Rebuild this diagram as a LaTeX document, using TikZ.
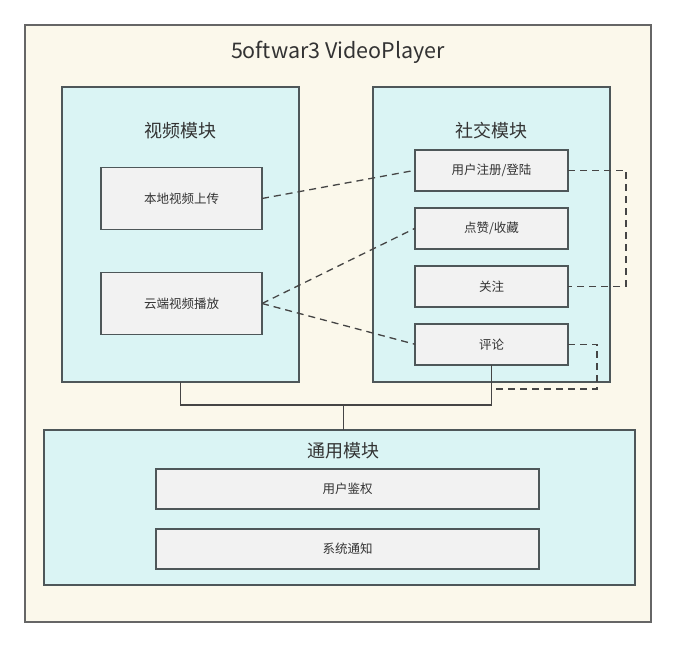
\documentclass[tikz,border=0pt]{standalone}
\usepackage{fontspec}
\setmainfont{Noto Sans CJK SC}
\begin{document}
\begin{tikzpicture}[x=1pt,y=-1pt,
  every node/.style={inner sep=0pt,outer sep=0pt},
  framebox/.style={draw=black!60,line width=1.2pt,fill=cream},
  modbox/.style={draw=boxline,line width=1.6pt,fill=cyanlt},
  itembox/.style={draw=boxline,line width=1.6pt,fill=graylt,text=textc,font=\fontsize{12.5}{14}\selectfont},
  modtitle/.style={text=textc,font=\fontsize{18}{20}\selectfont},
  dashconn/.style={draw=linec,line width=1.3pt,dash pattern=on 7pt off 5pt},
  solidc/.style={draw=linec,line width=1.2pt}]
\definecolor{cream}{HTML}{FBF8EB}
\definecolor{cyanlt}{HTML}{DAF4F4}
\definecolor{graylt}{HTML}{F2F2F2}
\definecolor{boxline}{HTML}{4E5759}
\definecolor{textc}{HTML}{333333}
\definecolor{linec}{HTML}{454545}
\useasboundingbox (0,0) rectangle (676,647);
\fill[white] (0,0) rectangle (676,647);
% outer frame
\path[framebox] (25,25) rectangle (651,622);
\node[text=textc,font=\fontsize{21.5}{24}\selectfont] (title) at (338,52) {5oftwar3 VideoPlayer};
% modules
\path[modbox] (62,87) rectangle (299,382);
\coordinate (vmb) at (180.5,382);
\node[modtitle] (vmt) at (180.5,131) {视频模块};
\path[modbox] (373,87) rectangle (610,382);
\node[modtitle] (smt) at (491.5,131) {社交模块};
\path[modbox] (44,430) rectangle (635,585);
\coordinate (cmt) at (343.5,430);
\node[modtitle] (cmtt) at (343.5,451) {通用模块};
% items
\node[itembox,minimum width=161pt,minimum height=62pt] (up) at (181.5,198.5) {本地视频上传};
\node[itembox,minimum width=161pt,minimum height=62pt] (play) at (181.5,303.5) {云端视频播放};
\node[itembox,minimum width=153pt,minimum height=41pt] (reg) at (491.5,170.3) {用户注册/登陆};
\node[itembox,minimum width=153pt,minimum height=41pt] (like) at (491.5,228.3) {点赞/收藏};
\node[itembox,minimum width=153pt,minimum height=41pt] (fol) at (491.5,286.3) {关注};
\node[itembox,minimum width=153pt,minimum height=41pt] (com) at (491.5,344.3) {评论};
\node[itembox,minimum width=383pt,minimum height=40pt] (auth) at (347.5,489) {用户鉴权};
\node[itembox,minimum width=383pt,minimum height=40pt] (notif) at (347.5,549) {系统通知};
% solid connector
\coordinate (j) at (343.5,405);
\draw[solidc] (vmb) |- (j) -| (com.south);
\draw[solidc] (j) -- (cmt);
% dashed connectors
\draw[dashconn] (up.east) -- (reg.west);
\draw[dashconn] (play.east) -- (like.west);
\draw[dashconn] (play.east) -- (com.west);
\coordinate (r1) at (626,170.3);
\coordinate (r2) at (626,286.3);
\draw[dashconn] (reg.east) -- (r1) -- (r2) -- (fol.east);
\coordinate (c1) at (597,344.3);
\coordinate (c2) at (597,389);
\coordinate (c3) at (491.5,389);
\draw[dashconn] (com.east) -- (c1) -- (c2) -- (c3);
\end{tikzpicture}
\end{document}
